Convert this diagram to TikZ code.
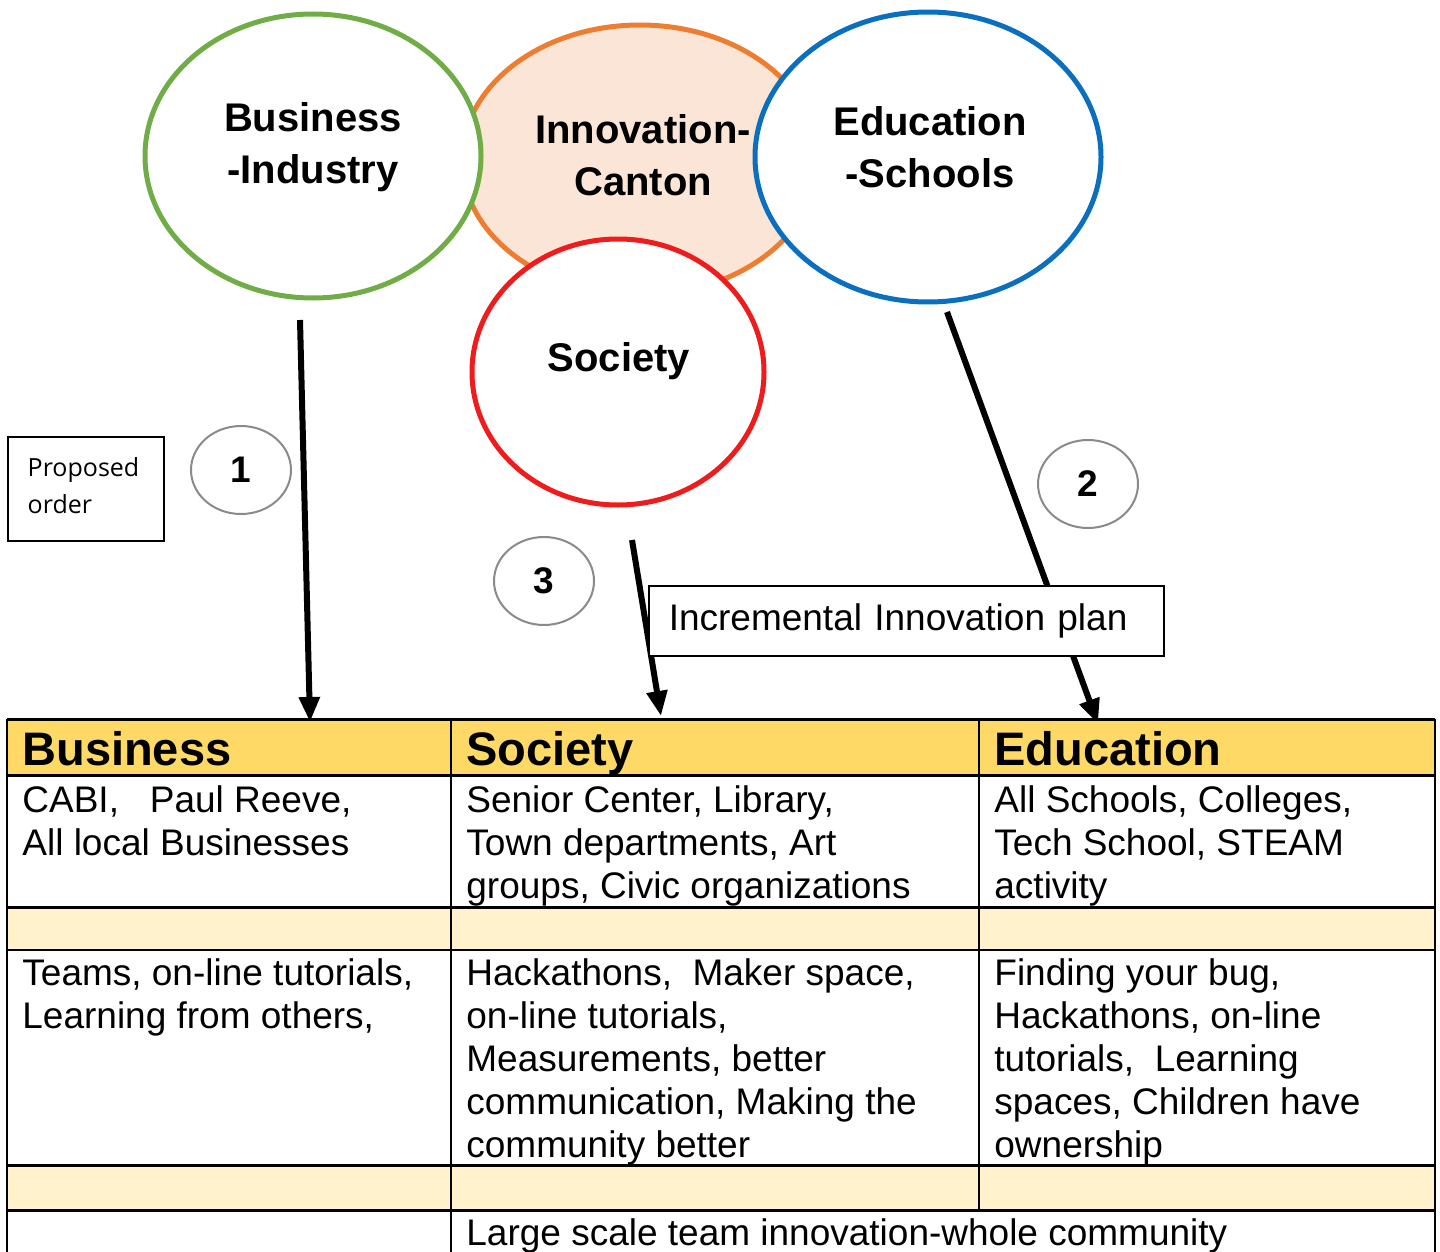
\documentclass[tikz,border=0pt]{standalone}
\usepackage{fontspec}
\setmainfont{Liberation Sans}
\newfontfamily\osans{Open Sans}
\usetikzlibrary{shapes.geometric,arrows.meta}
\definecolor{cgreen}{HTML}{70AD47}
\definecolor{corange}{HTML}{ED7D31}
\definecolor{cpeach}{HTML}{FBE5D6}
\definecolor{cblue}{HTML}{0B6FC0}
\definecolor{cred}{HTML}{EE1C1C}
\definecolor{cgray}{HTML}{8A8A8A}
\definecolor{chead}{HTML}{FFD966}
\definecolor{clight}{HTML}{FFF2CC}
\begin{document}
\begin{tikzpicture}[x=0.5pt,y=-0.5pt,
  ring/.style={ellipse, draw=#1, line width=2.5pt, fill=white, inner sep=0pt},
  ctext/.style={align=center, font=\fontsize{20}{26}\selectfont\bfseries, inner sep=0pt},
  numring/.style={ellipse, draw=cgray, line width=1pt, fill=white, inner sep=0pt,
    minimum width=50pt, minimum height=44pt, font=\fontsize{18.5}{20}\selectfont\bfseries},
  bigarrow/.style={line width=3pt, -{Triangle[length=12.5pt,width=10pt]}},
  headtext/.style={anchor=base west, inner sep=0pt, font=\fontsize{23.5}{28}\selectfont\bfseries},
  celltext/.style={anchor=north west, inner sep=0pt, align=left, font=\fontsize{18.5}{21.5}\selectfont},
  hline/.style={line width=1.5pt},
  vline/.style={line width=0.8pt}
]
\useasboundingbox (0,0) rectangle (1440,1252);

% circles
\node[ring=corange, fill=cpeach, minimum width=178pt, minimum height=135pt] (inno) at (640,160) {};
\node[ring=cgreen, minimum width=168pt, minimum height=142pt] (bus) at (313,156) {};
\node[ring=cblue, minimum width=173pt, minimum height=145pt] (edu) at (928,157) {};
\node[ring=cred, minimum width=146pt, minimum height=133pt] (soc) at (618,372) {};

\node[ctext] (busT) at (313,147) {Business\\-Industry};
\node[ctext] (innoT) at (643,155) {Innovation-\\Canton};
\node[ctext] (eduT) at (930,147) {Education\\-Schools};
\node[ctext] (socT) at (619,361) {Society};

% number circles
\node[numring] (n1) at (241,470) {1};
\node[numring] (n2) at (1088,484) {2};
\node[numring] (n3) at (544,581) {3};

% proposed order box
\node[draw, line width=0.75pt, anchor=north west, inner xsep=10pt, inner ysep=0pt,
  text width=58pt, minimum height=52pt, align=left,
  font=\osans\fontsize{12.5}{18.5}\selectfont] (prop) at (7,436) {Proposed\\order\vspace*{3pt}};

% arrows
\coordinate (a1s) at (300,320);
\coordinate (a1e) at (310,722);
\coordinate (a3s) at (632,540);
\coordinate (a3e) at (661,716);
\coordinate (a2s) at (947,312);
\coordinate (a2e) at (1098,724);
\draw[bigarrow] (a1s) -- (a1e);
\draw[bigarrow] (a3s) -- (a3e);
\draw[bigarrow] (a2s) -- (a2e);

% plan box
\node[draw, line width=0.75pt, fill=white, anchor=north west, inner xsep=10pt, inner ysep=0pt,
  text width=237.5pt, minimum height=35pt, align=left,
  font=\fontsize{18.5}{21.5}\selectfont] (plan) at (648,585) {Incremental Innovation plan};

% table fills
\fill[chead] (7,719) rectangle (1435,775);
\fill[clight] (7,907) rectangle (1435,950);
\fill[clight] (7,1165) rectangle (1435,1210);

% table lines
\draw[hline] (7,719) -- (1435,719);
\draw[hline] (7,775) -- (1435,775);
\draw[hline] (7,907) -- (1435,907);
\draw[line width=1pt] (7,950) -- (1435,950);
\draw[hline] (7,1165) -- (1435,1165);
\draw[hline] (7,1210) -- (1435,1210);
\draw[line width=1pt] (7,719) -- (7,1252);
\draw[vline] (451,719) -- (451,1252);
\draw[vline] (979,719) -- (979,1210);
\draw[line width=1pt] (1435,719) -- (1435,1252);

% table text
\node[headtext] (h1) at (22,765) {Business};
\node[headtext] (h2) at (466,765) {Society};
\node[headtext] (h3) at (994,765) {Education};

\node[celltext] (c21) at (22,785.5) {CABI,\ \ \ Paul Reeve,\\All local Businesses};
\node[celltext] (c22) at (466,785.5) {Senior Center, Library,\\Town departments, Art\\groups, Civic organizations};
\node[celltext] (c23) at (994,785.5) {All Schools, Colleges,\\Tech School, STEAM\\activity};

\node[celltext] (c41) at (22,958.5) {Teams, on-line tutorials,\\Learning from others,};
\node[celltext] (c42) at (466,958.5) {Hackathons,\ \ Maker space,\\on-line tutorials,\\Measurements, better\\communication, Making the\\community better};
\node[celltext] (c43) at (994,958.5) {Finding your bug,\\Hackathons, on-line\\tutorials,\ \ Learning\\spaces, Children have\\ownership};

\node[celltext] (c62) at (466,1218.5) {Large scale team innovation-whole community};
\end{tikzpicture}
\end{document}
